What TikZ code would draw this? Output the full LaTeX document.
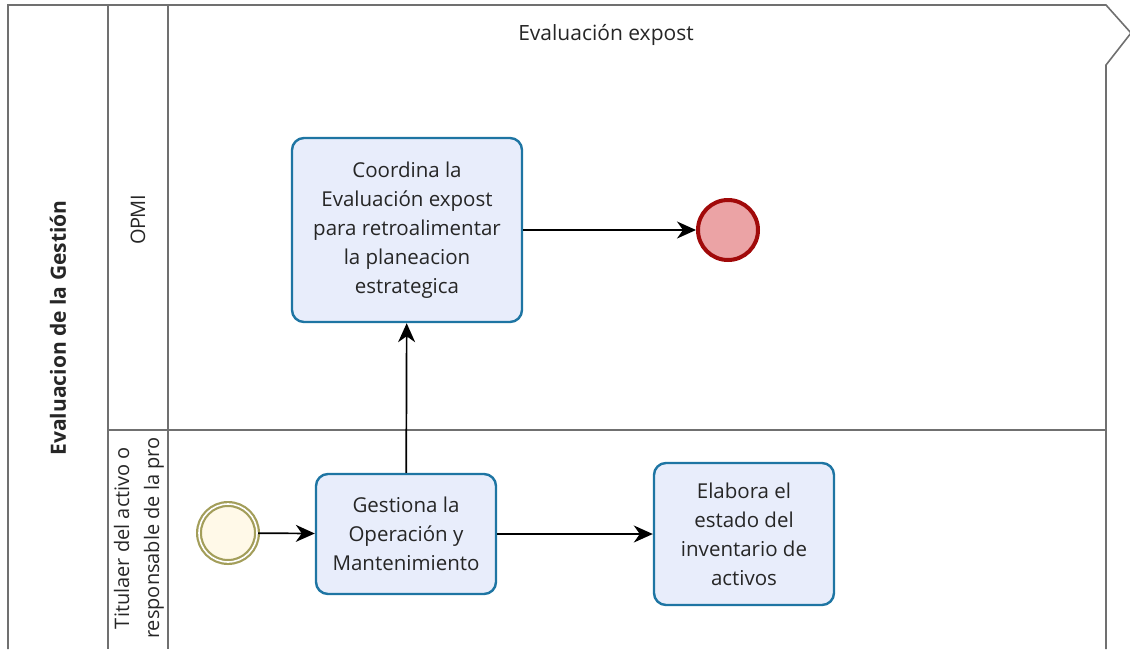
\documentclass[tikz,border=0pt]{standalone}
\usepackage{fontspec}
\setmainfont{Open Sans}
\usetikzlibrary{arrows.meta}
\definecolor{poolline}{HTML}{707070}
\definecolor{taskfill}{HTML}{E8EDFB}
\definecolor{taskline}{HTML}{1E75A3}
\definecolor{startfill}{HTML}{FFF9E8}
\definecolor{startline}{HTML}{A39E5A}
\definecolor{endfill}{HTML}{EBA3A5}
\definecolor{endline}{HTML}{A10A0A}
\tikzset{
  pool/.style={draw=poolline, line width=1.6pt},
  task/.style={draw=taskline, fill=taskfill, line width=2.4pt, rounded corners=12pt,
    align=center, font=\fontsize{20.5}{29}\selectfont, text=black!85, inner sep=0pt},
  startev/.style={circle, draw=startline, fill=startfill, line width=2.2pt, double=white,
    double distance=1.6pt, minimum size=58pt, inner sep=0pt},
  endev/.style={circle, draw=endline, fill=endfill, line width=4pt, minimum size=60pt, inner sep=0pt},
  flow/.style={draw=black, line width=1.7pt, -{Stealth[length=19pt,width=17pt,inset=6pt]}},
  lbl/.style={font=\fontsize{21}{29}\selectfont, text=black!85}
}
\begin{document}
\begin{tikzpicture}[x=1pt,y=-1pt]
\useasboundingbox (0,0) rectangle (1130,649);
% pool
\draw[pool] (8,649) -- (8,5) -- (1106,5) -- (1131,33) -- (1106,65) -- (1106,649);
\draw[pool] (108,5) -- (108,649);
\draw[pool] (168,5) -- (168,649);
\draw[pool] (108,430) -- (1106,430);
% labels
\node[lbl] (title) at (606,35) {Evaluación expost};
\node[lbl, rotate=90, font=\fontsize{21}{29}\selectfont\bfseries] (pool) at (58,328) {Evaluacion de la Gestión};
\node[lbl, rotate=90, font=\fontsize{20}{22}\selectfont\addfontfeatures{LetterSpace=-3}] (lane1) at (138,220) {OPMI};
\node[lbl, rotate=90, align=center, font=\fontsize{20}{30}\selectfont] (lane2) at (139,538) {Titulaer del activo o\\responsable de la pro};
% nodes
\node[task, minimum width=230pt, minimum height=184pt] (coord) at (407,230)
  {Coordina la\\Evaluación expost\\para retroalimentar\\la planeacion\\estrategica};
\node[endev] (end) at (728,230) {};
\node[startev] (start) at (228,533) {};
\node[task, minimum width=180pt, minimum height=120pt] (gest) at (406,534)
  {Gestiona la\\Operación y\\Mantenimiento};
\node[task, minimum width=180pt, minimum height=142pt] (elab) at (744,534)
  {Elabora el\\estado del\\inventario de\\activos};
% flows
\draw[flow] (start) -- (gest);
\draw[flow] (gest) -- (elab);
\draw[flow] (gest) -- (coord);
\draw[flow] (coord) -- (end);
\end{tikzpicture}
\end{document}
